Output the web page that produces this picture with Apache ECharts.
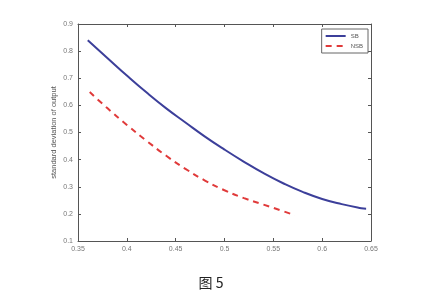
<!DOCTYPE html>
<html><head><meta charset="utf-8">
<script src="https://cdn.jsdelivr.net/npm/echarts@6/dist/echarts.min.js"></script>
<style>html,body{margin:0;padding:0;background:#fff}#c{width:422px;height:298px}</style>
</head><body><div id="c"></div>
<script>
const sbX = [0.36, 0.38, 0.40, 0.42, 0.44, 0.46, 0.48, 0.50, 0.52, 0.54, 0.56, 0.58, 0.60, 0.62, 0.64, 0.645];
const sbY = [0.84, 0.775, 0.71, 0.648, 0.59, 0.537, 0.485, 0.437, 0.392, 0.35, 0.313, 0.281, 0.255, 0.236, 0.221, 0.219];
const nsbX = [0.362, 0.38, 0.40, 0.42, 0.44, 0.46, 0.48, 0.50, 0.52, 0.54, 0.56, 0.572];
const nsbY = [0.649, 0.59, 0.528, 0.47, 0.415, 0.366, 0.323, 0.287, 0.258, 0.234, 0.21, 0.195];
const xTicks = ['0.35','0.4','0.45','0.5','0.55','0.6','0.65'];
const yTicks = ['0.1','0.2','0.3','0.4','0.5','0.6','0.7','0.8','0.9'];
const seriesNames = ['SB','NSB'];
const yName = 'standard deviation of output';
const caption = '图 5';

const axisCol = '#555';
const lblCol = '#777';
function fmt(v){ const s = (Math.round(v*100)/100).toString(); return s; }
const chart = echarts.init(document.getElementById('c'));
const boxAxis = {show:true, lineStyle:{color:axisCol, width:1}};
chart.setOption({
  animation:false,
  title:{text:caption, left:'center', top:271, textStyle:{fontFamily:'Noto Sans CJK SC', fontSize:14, fontWeight:'normal', color:'#222'}},
  grid:{left:78, right:51, top:24, bottom:57},
  legend:{
    data:seriesNames, orient:'vertical', right:54, top:29,
    itemWidth:20, itemHeight:7, itemGap:4, padding:[4,5,4,3],
    borderColor:'#666', borderWidth:1, backgroundColor:'#fff',
    itemStyle:{opacity:0},
    textStyle:{fontSize:6, color:'#555', fontFamily:'Liberation Sans'}
  },
  xAxis:[{
    type:'value', min:0.35, max:0.65, interval:0.05,
    axisLine:boxAxis, axisTick:{show:true, inside:true, length:3, lineStyle:{color:axisCol}},
    splitLine:{show:false},
    axisLabel:{fontSize:7, color:lblCol, margin:5, fontFamily:'Liberation Sans',
      formatter:(v)=>{const i=Math.round((v-0.35)/0.05); return xTicks[i]!==undefined?xTicks[i]:fmt(v);}}
  },{
    type:'value', position:'top', min:0.35, max:0.65, interval:0.05,
    axisLine:boxAxis, axisTick:{show:true, inside:true, length:3, lineStyle:{color:axisCol}},
    axisLabel:{show:false}, splitLine:{show:false}
  }],
  yAxis:[{
    type:'value', min:0.1, max:0.9, interval:0.1,
    name:yName, nameLocation:'middle', nameGap:20, nameRotate:90, nameMoveOverlap:false,
    nameTextStyle:{fontSize:7.5, color:'#555', fontFamily:'Liberation Sans'},
    axisLine:boxAxis, axisTick:{show:true, inside:true, length:3, lineStyle:{color:axisCol}},
    splitLine:{show:false},
    axisLabel:{fontSize:7, color:lblCol, margin:5, fontFamily:'Liberation Sans',
      formatter:(v)=>{const i=Math.round((v-0.1)/0.1); return yTicks[i]!==undefined?yTicks[i]:fmt(v);}}
  },{
    type:'value', position:'right', min:0.1, max:0.9, interval:0.1,
    axisLine:boxAxis, axisTick:{show:true, inside:true, length:3, lineStyle:{color:axisCol}},
    axisLabel:{show:false}, splitLine:{show:false}
  }],
  series:[{
    name:seriesNames[0], type:'line', smooth:true, showSymbol:false, symbol:'none',
    data:sbX.map((x,i)=>[x,sbY[i]]),
    lineStyle:{color:'#3c3f9a', width:2}, itemStyle:{color:'#3c3f9a'}
  },{
    name:seriesNames[1], type:'line', smooth:true, showSymbol:false, symbol:'none',
    data:nsbX.map((x,i)=>[x,nsbY[i]]),
    lineStyle:{color:'#e03a3a', width:2, type:[6,5]}, itemStyle:{color:'#e03a3a'}
  }]
});
</script></body></html>
